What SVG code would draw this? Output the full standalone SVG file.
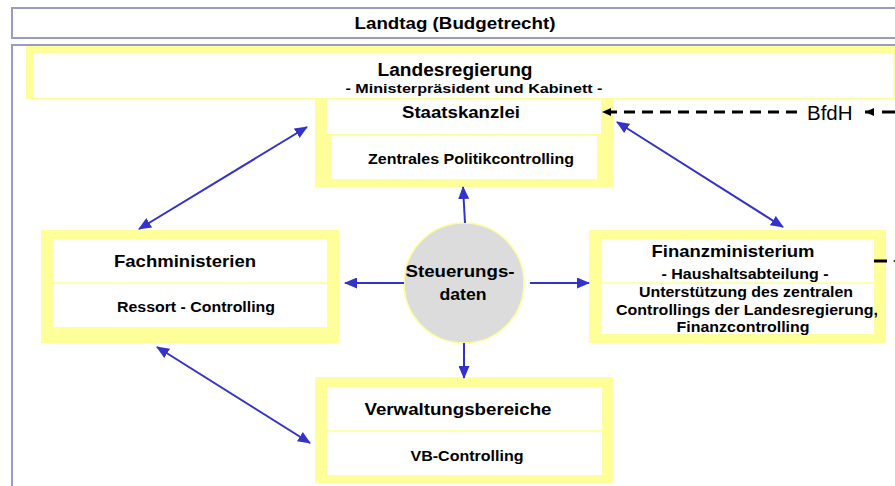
<svg xmlns="http://www.w3.org/2000/svg" width="895" height="486" viewBox="0 0 895 486">
<defs>
<style>
.frame{fill:#ffff99}
.inner{fill:#ffffff}
.div{stroke:#ffffb0;stroke-width:2}
.box{fill:#ffffff;stroke:#9a9ac4;stroke-width:2}
.t{font-family:"Liberation Sans",Arial,sans-serif;font-weight:bold;fill:#000;text-anchor:middle}
.h{font-size:17px}
.s{font-size:14.5px}
.blue{stroke:#3333cc;stroke-width:2;fill:none}
.dash{stroke:#000;stroke-width:3;fill:none;stroke-dasharray:11 7}
</style>
<marker id="ba" markerUnits="userSpaceOnUse" markerWidth="13" markerHeight="11" refX="12" refY="5.5" orient="auto-start-reverse" viewBox="0 0 13 11">
<path d="M0,0 L13,5.5 L0,11 z" fill="#3333cc"/>
</marker>
<marker id="ka" markerUnits="userSpaceOnUse" markerWidth="9" markerHeight="8" refX="9" refY="4" orient="auto" viewBox="0 0 9 8">
<path d="M0,0 L9,4 L0,8 z" fill="#000"/>
</marker>
</defs>
<rect width="895" height="486" fill="#ffffff"/>

<g id="landtag">
<rect class="box" x="12" y="8" width="900" height="30"/>
<text class="t" x="455" y="29" font-size="17" textLength="201" lengthAdjust="spacingAndGlyphs">Landtag (Budgetrecht)</text>
</g>

<g id="rahmen">
<rect class="box" x="12" y="45" width="900" height="460"/>
</g>

<g id="staatskanzlei">
<rect class="frame" x="315" y="96" width="298" height="91"/>
<rect class="inner" x="327" y="98" width="274" height="36"/>
<rect class="inner" x="331" y="136" width="266" height="43"/>
<text class="t h" x="461" y="118" textLength="118" lengthAdjust="spacingAndGlyphs">Staatskanzlei</text>
<text class="t s" x="471" y="164" textLength="206" lengthAdjust="spacingAndGlyphs">Zentrales Politikcontrolling</text>
</g>

<g id="landesregierung">
<rect class="frame" x="26" y="46" width="880" height="53"/>
<rect class="inner" x="33" y="53" width="860" height="45"/>
<text class="t" x="455" y="76" font-size="17.5" textLength="155" lengthAdjust="spacingAndGlyphs">Landesregierung</text>
<text class="t" x="474" y="93" font-size="13.5" textLength="257" lengthAdjust="spacingAndGlyphs">- Ministerpräsident und Kabinett -</text>
</g>

<g id="fachministerien">
<rect class="frame" x="41" y="230" width="298" height="113"/>
<rect class="inner" x="53" y="239" width="274" height="88"/>
<line class="div" x1="53" y1="283" x2="327" y2="283"/>
<text class="t h" x="185" y="267" textLength="142" lengthAdjust="spacingAndGlyphs">Fachministerien</text>
<text class="t s" x="196" y="312" textLength="158" lengthAdjust="spacingAndGlyphs">Ressort - Controlling</text>
</g>

<g id="finanzministerium">
<rect class="frame" x="589" y="230" width="297" height="113"/>
<rect class="inner" x="601" y="239" width="273" height="95"/>
<line class="div" x1="601" y1="283" x2="874" y2="283"/>
<text class="t h" x="733" y="257" textLength="163" lengthAdjust="spacingAndGlyphs">Finanzministerium</text>
<text class="t s" x="745" y="279" textLength="167" lengthAdjust="spacingAndGlyphs">- Haushaltsabteilung -</text>
<text class="t s" x="746" y="297" textLength="214" lengthAdjust="spacingAndGlyphs">Unterstützung des zentralen</text>
<text class="t s" x="747" y="315" textLength="262" lengthAdjust="spacingAndGlyphs">Controllings der Landesregierung,</text>
<text class="t s" x="743" y="332" textLength="133" lengthAdjust="spacingAndGlyphs">Finanzcontrolling</text>
</g>

<g id="verwaltungsbereiche">
<rect class="frame" x="315" y="377" width="298" height="106"/>
<rect class="inner" x="327" y="387" width="275" height="88"/>
<line class="div" x1="327" y1="431" x2="602" y2="431"/>
<text class="t h" x="458" y="415" textLength="187" lengthAdjust="spacingAndGlyphs">Verwaltungsbereiche</text>
<text class="t s" x="467" y="461" textLength="113" lengthAdjust="spacingAndGlyphs">VB-Controlling</text>
</g>

<g id="steuerungsdaten">
<circle cx="464" cy="283" r="60" fill="#dcdcdc" stroke="#ffff99" stroke-width="1.5"/>
<text class="t" x="460" y="277" font-size="17" textLength="109" lengthAdjust="spacingAndGlyphs">Steuerungs-</text>
<text class="t" x="463" y="300" font-size="17" textLength="47" lengthAdjust="spacingAndGlyphs">daten</text>
</g>

<g id="bfdh">
<text x="807" y="120" font-family="Liberation Sans, Arial, sans-serif" font-size="20.5" fill="#000">BfdH</text>
</g>

<g id="connectors">
<path class="blue" d="M465,223 L463,187" marker-end="url(#ba)"/>
<path class="blue" d="M404,283 L345,283" marker-end="url(#ba)"/>
<path class="blue" d="M530,283 L589,283" marker-end="url(#ba)"/>
<path class="blue" d="M464,343 L464,378" marker-end="url(#ba)"/>
<path class="blue" d="M139,229 L307,127" marker-start="url(#ba)" marker-end="url(#ba)"/>
<path class="blue" d="M617,122 L783,227" marker-start="url(#ba)" marker-end="url(#ba)"/>
<path class="blue" d="M157,347 L310,443" marker-start="url(#ba)" marker-end="url(#ba)"/>
<path class="dash" d="M797,112 L602,112" marker-end="url(#ka)"/>
<path d="M873,112 L865,112" stroke="#000" stroke-width="3" marker-end="url(#ka)"/>
<line x1="882" y1="112" x2="897" y2="112" stroke="#000" stroke-width="3"/>
<line x1="874" y1="261" x2="887" y2="261" stroke="#000" stroke-width="3"/>
<path d="M893,261 L900,257.5 L900,264.5 z" fill="#000"/>
</g>
</svg>
